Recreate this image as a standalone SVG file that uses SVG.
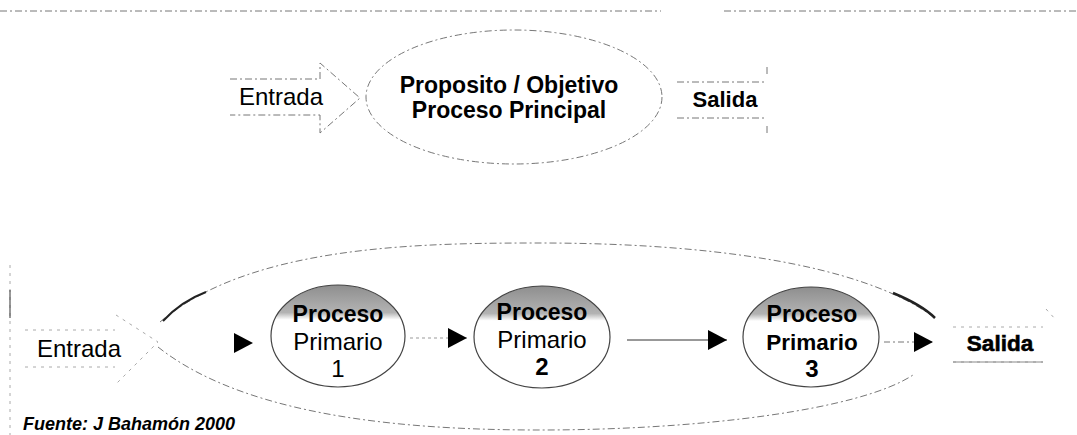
<svg xmlns="http://www.w3.org/2000/svg" width="1077" height="435" viewBox="0 0 1077 435">
<defs>
<linearGradient id="gshade" x1="0" y1="0" x2="0" y2="1">
<stop offset="0" stop-color="#8e8e8e"/>
<stop offset="0.27" stop-color="#b3b3b3"/>
<stop offset="0.34" stop-color="#ffffff"/>
<stop offset="1" stop-color="#ffffff"/>
</linearGradient>
<marker id="ah" markerUnits="userSpaceOnUse" markerWidth="20" markerHeight="20" refX="19" refY="10" orient="auto">
<path d="M0,0 L19,10 L0,20 Z" fill="#000"/>
</marker>
<style>
.t{font-family:"Liberation Sans",Arial,Helvetica,sans-serif;fill:#000}
.b{font-weight:bold}
.dash{fill:none;stroke:#777;stroke-width:1;stroke-dasharray:7 3 2 3}
.faint{fill:none;stroke:#aaa;stroke-width:1;stroke-dasharray:3 5}
.pe{stroke:#444;stroke-width:1.2}
</style>
</defs>
<rect width="1077" height="435" fill="#fff"/>

<g id="frame">
<path class="dash" d="M0,11 L661,11 M724,11 L1077,11"/>
<path class="faint" d="M10,265 L10,435"/>
<path d="M10,290 L10,318" stroke="#555" stroke-width="1.2"/>
</g>

<g id="top-entrada">
<path class="dash" d="M230,79 L320,79 L320,63 L360,98 L320,133 L320,115 L230,115"/>
<text class="t" x="239" y="105" font-size="24">Entrada</text>
</g>

<g id="top-proceso">
<ellipse class="dash" cx="514" cy="97" rx="148" ry="67"/>
<text class="t b" x="509" y="93" font-size="23" text-anchor="middle">Proposito / Objetivo</text>
<text class="t b" x="509" y="118" font-size="23" text-anchor="middle">Proceso Principal</text>
</g>

<g id="top-salida">
<path class="dash" d="M677,82 L767,82 M767,67 L767,74 M677,118 L767,118 M767,126 L767,133"/>
<text class="t b" x="725" y="107" font-size="22" text-anchor="middle">Salida</text>
</g>

<g id="contenedor">
<path class="dash" d="M160,322 C250,245 420,243 540,243 C700,243 860,262 935,318"/>
<path class="dash" d="M158,347 C250,420 420,430 540,430 C700,430 860,410 913,375"/>
<path d="M163,321 C175,308 190,298 206,292" fill="none" stroke="#222" stroke-width="2"/>
<path d="M893,293 C910,300 925,308 935,318" fill="none" stroke="#222" stroke-width="2.5"/>
</g>

<g id="bottom-entrada">
<path class="faint" d="M25,330 L115,330 M116,315 L158,342 L117,383 M25,367 L115,367"/>
<text class="t" x="37" y="357" font-size="24">Entrada</text>
</g>

<g id="p1">
<ellipse class="pe" cx="338" cy="336" rx="67" ry="51" fill="url(#gshade)"/>
<text class="t b" x="338" y="322" font-size="23" text-anchor="middle">Proceso</text>
<text class="t" x="338" y="350" font-size="24" text-anchor="middle">Primario</text>
<text class="t" x="338" y="377" font-size="24" text-anchor="middle">1</text>
</g>

<g id="p2">
<ellipse class="pe" cx="542" cy="337" rx="68" ry="51" fill="url(#gshade)"/>
<text class="t b" x="542" y="320" font-size="23" text-anchor="middle">Proceso</text>
<text class="t" x="542" y="348" font-size="24" text-anchor="middle">Primario</text>
<text class="t b" x="542" y="375" font-size="24" text-anchor="middle">2</text>
</g>

<g id="p3">
<ellipse class="pe" cx="811" cy="337" rx="68" ry="50" fill="url(#gshade)"/>
<text class="t b" x="812" y="322" font-size="23" text-anchor="middle">Proceso</text>
<text class="t b" x="812" y="350" font-size="22.5" text-anchor="middle">Primario</text>
<text class="t b" x="812" y="377" font-size="24" text-anchor="middle">3</text>
</g>

<g id="bottom-salida">
<path class="faint" d="M953,327 L1043,327 M1046,309 L1056,320 M953,362 L1043,362"/>
<path d="M953,362 L1043,362" stroke="#888" stroke-width="1"/>
<text class="t b" x="1000" y="351" font-size="22.5" text-anchor="middle" stroke="#000" stroke-width="0.6">Salida</text>
</g>

<g id="connectors">
<path d="M230,343 L253,343" stroke="#fff" stroke-opacity="0" marker-end="url(#ah)"/>
<path d="M410,338 L467,338" fill="none" stroke="#999" stroke-width="1" stroke-dasharray="3 3" marker-end="url(#ah)"/>
<path d="M627,340 L727,340" fill="none" stroke="#333" stroke-width="1" marker-end="url(#ah)"/>
<path d="M884,342 L933,342" fill="none" stroke="#777" stroke-width="1" stroke-dasharray="6 3 2 3" marker-end="url(#ah)"/>
</g>

<g id="fuente">
<text class="t b" x="23" y="430" font-size="18" font-style="italic">Fuente: J Bahamón 2000</text>
</g>
</svg>
